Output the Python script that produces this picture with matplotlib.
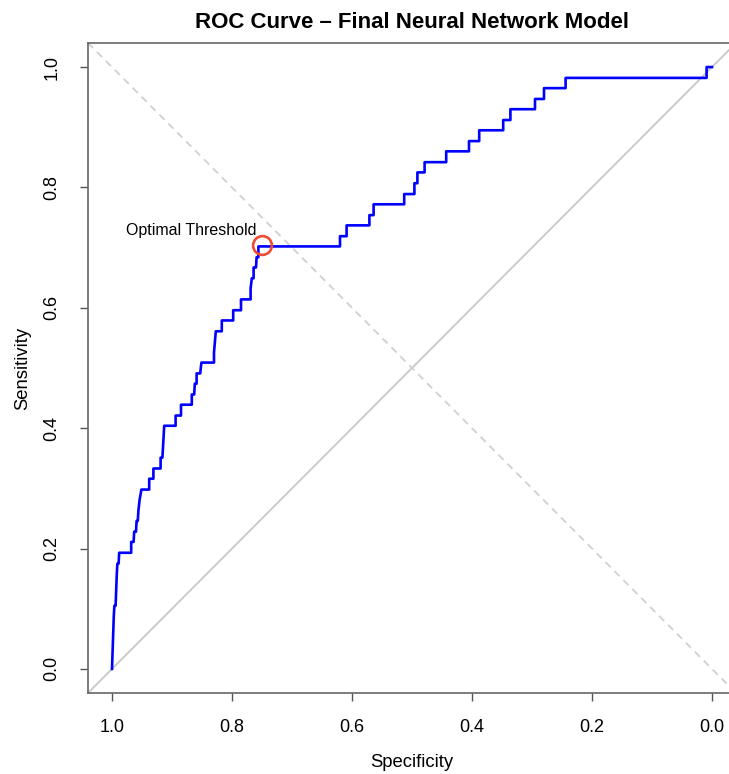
import matplotlib
matplotlib.use("Agg")
import matplotlib.pyplot as plt

plt.rcParams["font.family"] = ["Liberation Sans", "DejaVu Sans"]

# ROC path (specificity, sensitivity) as drawn, step corners
specificity = [1.000, 0.997, 0.996, 0.994, 0.992, 0.991, 0.989, 0.988, 0.968, 0.968,
               0.964, 0.963, 0.960, 0.959, 0.957, 0.956, 0.954, 0.951, 0.938, 0.938,
               0.931, 0.931, 0.919, 0.919, 0.916, 0.915, 0.913, 0.894, 0.894, 0.885,
               0.885, 0.867, 0.867, 0.863, 0.862, 0.859, 0.859, 0.853, 0.851, 0.830,
               0.830, 0.827, 0.817, 0.817, 0.798, 0.798, 0.785, 0.785, 0.769, 0.769,
               0.767, 0.764, 0.764, 0.760, 0.759, 0.756, 0.756, 0.620, 0.620, 0.609,
               0.609, 0.571, 0.571, 0.564, 0.564, 0.513, 0.513, 0.496, 0.496, 0.491,
               0.491, 0.479, 0.479, 0.443, 0.443, 0.405, 0.405, 0.388, 0.388, 0.348,
               0.348, 0.336, 0.336, 0.295, 0.295, 0.280, 0.280, 0.244, 0.244, 0.009,
               0.009, 0.000]
sensitivity = [0.000, 0.088, 0.105, 0.105, 0.158, 0.175, 0.175, 0.193, 0.193, 0.211,
               0.211, 0.228, 0.228, 0.246, 0.246, 0.263, 0.281, 0.298, 0.298, 0.316,
               0.316, 0.333, 0.333, 0.351, 0.351, 0.368, 0.404, 0.404, 0.421, 0.421,
               0.439, 0.439, 0.456, 0.456, 0.474, 0.474, 0.491, 0.491, 0.509, 0.509,
               0.526, 0.561, 0.561, 0.579, 0.579, 0.596, 0.596, 0.614, 0.614, 0.632,
               0.649, 0.649, 0.667, 0.667, 0.684, 0.684, 0.702, 0.702, 0.719, 0.719,
               0.737, 0.737, 0.754, 0.754, 0.772, 0.772, 0.789, 0.789, 0.807, 0.807,
               0.825, 0.825, 0.842, 0.842, 0.860, 0.860, 0.877, 0.877, 0.895, 0.895,
               0.912, 0.912, 0.930, 0.930, 0.947, 0.947, 0.965, 0.965, 0.982, 0.982,
               1.000, 1.000]

best_spec = 0.750
best_sens = 0.705
best_label = "Optimal Threshold"

ticks = [0.0, 0.2, 0.4, 0.6, 0.8, 1.0]
tick_labels = ["0.0", "0.2", "0.4", "0.6", "0.8", "1.0"]

fig = plt.figure(figsize=(7.29, 7.74), dpi=100)
ax = fig.add_axes([88 / 729, 81 / 774, 648 / 729, 650 / 774])

lo, hi = -0.04, 1.04
# chance line and the sens == spec line
ax.plot([hi, lo], [1 - hi, 1 - lo], color="#c8c8c8", lw=1.3, zorder=1)
ax.plot([hi, lo], [hi, lo], color="#d0d0d0", lw=1.3, ls=(0, (4, 3)), zorder=1)

ax.plot(specificity, sensitivity, color="#0000ff", lw=1.9, zorder=3)

ax.plot(best_spec, best_sens, "o", ms=13.5, mfc="none", mec="#f04a32", mew=1.9, zorder=4)
ax.text(0.760, 0.721, best_label, ha="right", va="baseline", fontsize=11.5)

ax.set_xlim(hi, lo)
ax.set_ylim(lo, hi)
ax.set_xticks(ticks)
ax.set_xticklabels(tick_labels)
ax.set_yticks(ticks)
ax.set_yticklabels(tick_labels, rotation=90, va="center")
ax.tick_params(axis="both", length=6, width=1, color="#555555", labelsize=13)
ax.tick_params(axis="x", pad=12.5)
ax.tick_params(axis="y", pad=14)

for s in ax.spines.values():
    s.set_color("#666666")
    s.set_linewidth(1.2)

ax.set_xlabel("Specificity", fontsize=13.3, labelpad=13.5)
ax.set_ylabel("Sensitivity", fontsize=13.3, labelpad=8.5)
ax.set_title("ROC Curve \u2013 Final Neural Network Model", fontsize=16, fontweight="bold", pad=11)

fig.savefig("out.png", dpi=100)
